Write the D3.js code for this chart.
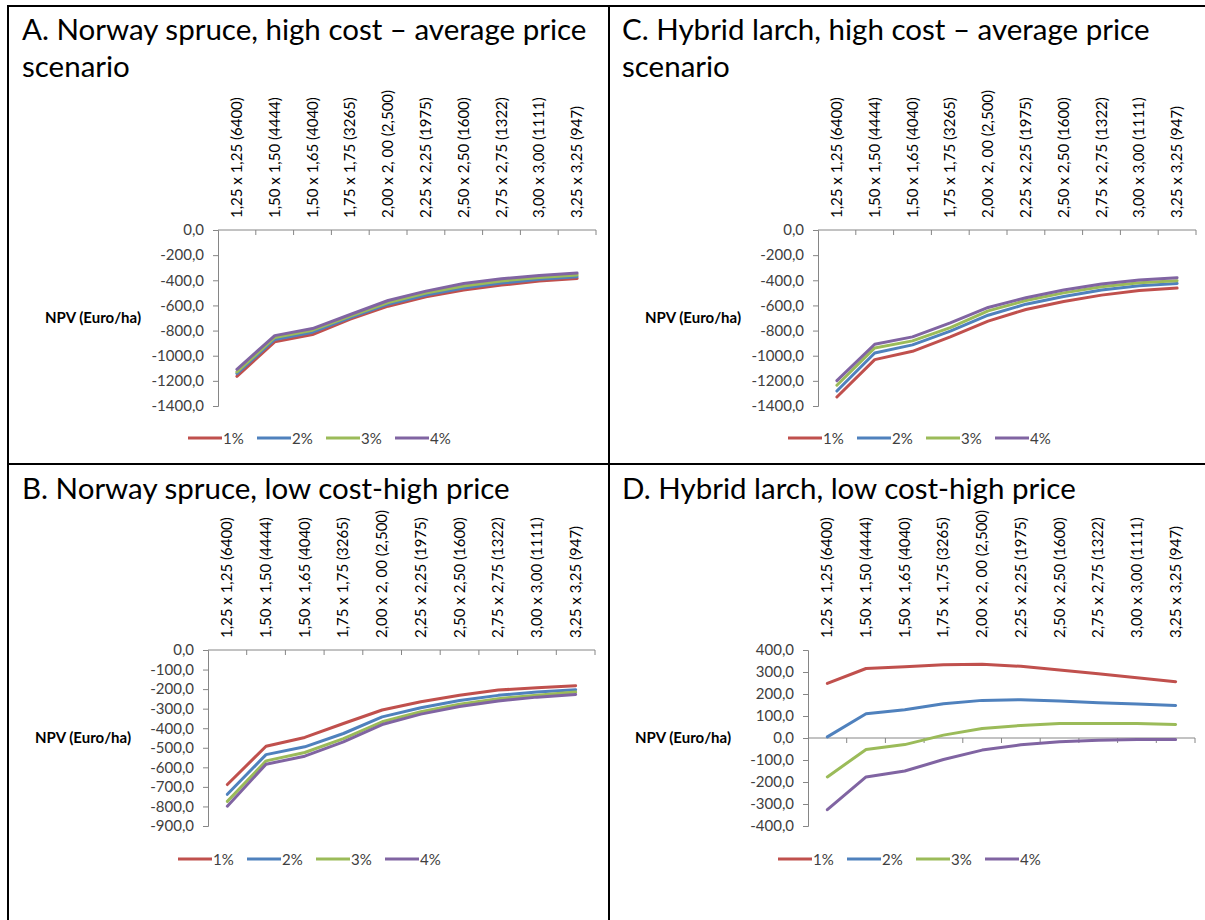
<!DOCTYPE html>
<html>
<head>
<meta charset="utf-8">
<script src="https://cdn.jsdelivr.net/npm/d3@7"></script>
<style>
  html, body { margin: 0; padding: 0; background: #fff; }
  svg { display: block; }
  text { font-family: Lato, "Open Sans", sans-serif; fill: #404040; }
</style>
</head>
<body>
<svg id="fig" width="1205" height="920"></svg>
<script>
// Spacing (m x m) with stems per hectare
const categories = [
  "1,25 x 1,25 (6400)", "1,50 x 1,50 (4444)", "1,50 x 1,65 (4040)", "1,75 x 1,75 (3265)",
  "2,00 x 2, 00 (2,500)", "2,25 x 2,25 (1975)", "2,50 x 2,50 (1600)", "2,75 x 2,75 (1322)",
  "3,00 x 3,00 (1111)", "3,25 x 3,25 (947)"
];
const rates = ["1%", "2%", "3%", "4%"];
const rateColors = ["#C0504D", "#4F81BD", "#9BBB59", "#8064A2"];

// NPV (Euro/ha) per discount rate, one row per rate
const npvSpruceHighCost = [
  [-1164, -890, -832, -709, -606, -531, -478, -438, -406, -385],
  [-1142, -871, -813, -697, -590, -517, -462, -422, -392, -372],
  [-1129, -855, -797, -685, -577, -502, -445, -405, -377, -357],
  [-1108, -840, -784, -672, -561, -486, -425, -388, -361, -343]
];
const npvLarchHighCost = [
  [-1328, -1031, -965, -850, -725, -632, -569, -518, -481, -462],
  [-1281, -978, -914, -805, -678, -590, -529, -478, -444, -425],
  [-1235, -938, -882, -776, -643, -561, -500, -452, -420, -404],
  [-1198, -909, -850, -739, -616, -539, -478, -430, -398, -380]
];
const npvSpruceLowCost = [
  [-688, -492, -447, -376, -307, -265, -231, -205, -193, -183],
  [-738, -535, -495, -427, -342, -295, -258, -232, -215, -203],
  [-774, -567, -524, -453, -367, -316, -277, -249, -231, -215],
  [-799, -584, -543, -470, -381, -328, -289, -261, -241, -227]
];
const npvLarchLowCost = [
  [248, 316, 324, 333, 335, 326, 309, 292, 274, 256],
  [5, 110, 128, 156, 171, 174, 168, 160, 154, 148],
  [-177, -52, -30, 13, 43, 57, 66, 66, 66, 61],
  [-326, -177, -150, -98, -55, -31, -17, -10, -7, -7]
];

const yTicksA = [0, -200, -400, -600, -800, -1000, -1200, -1400];
const yTicksB = [0, -100, -200, -300, -400, -500, -600, -700, -800, -900];
const yTicksD = [400, 300, 200, 100, 0, -100, -200, -300, -400];

const panels = [
  { title: ["A. Norway spruce, high cost \u2013 average price", "scenario"], tx: 22, ty: 40,
    data: npvSpruceHighCost, ticks: yTicksA, left: 218, right: 596, top: 230, bottom: 406, legendY: 438 },
  { title: ["C. Hybrid larch, high cost \u2013 average price", "scenario"], tx: 622, ty: 40,
    data: npvLarchHighCost, ticks: yTicksA, left: 818, right: 1196, top: 230, bottom: 406, legendY: 438 },
  { title: ["B. Norway spruce, low cost-high price"], tx: 22, ty: 499,
    data: npvSpruceLowCost, ticks: yTicksB, left: 208, right: 595, top: 650, bottom: 826, legendY: 859 },
  { title: ["D. Hybrid larch, low cost-high price"], tx: 622, ty: 499,
    data: npvLarchLowCost, ticks: yTicksD, left: 808, right: 1195, top: 650, bottom: 826, legendY: 859 }
];

const fmt = d3.formatLocale({ decimal: ",", thousands: ".", grouping: [3], currency: ["", ""], minus: "-" }).format(".1f");
const svg = d3.select("#fig");
const axisGrey = "#868686";

// Table frame around the four panels
const frame = svg.append("g").attr("stroke", "#000").attr("stroke-width", 2);
frame.append("line").attr("x1", 7).attr("x2", 1205).attr("y1", 6).attr("y2", 6);
frame.append("line").attr("x1", 8).attr("x2", 8).attr("y1", 5).attr("y2", 920);
frame.append("line").attr("x1", 609).attr("x2", 609).attr("y1", 5).attr("y2", 920);
frame.append("line").attr("x1", 7).attr("x2", 1205).attr("y1", 464).attr("y2", 464);

panels.forEach(p => {
  const g = svg.append("g");

  // Panel heading
  p.title.forEach((line, i) => {
    g.append("text").attr("x", p.tx).attr("y", p.ty + i * 37)
      .style("font-size", "29.5px").style("fill", "#000").text(line);
  });

  const x = d3.scaleBand().domain(categories).range([p.left, p.right]);
  const y = d3.scaleLinear().domain([d3.min(p.ticks), d3.max(p.ticks)]).range([p.bottom, p.top]);

  // Value axis
  const yAxis = g.append("g").attr("transform", `translate(${p.left},0)`)
    .call(d3.axisLeft(y).tickValues(p.ticks).tickFormat(fmt).tickSizeOuter(0).tickSize(5).tickPadding(9));
  yAxis.select(".domain").attr("stroke", axisGrey);
  yAxis.selectAll(".tick line").attr("stroke", axisGrey);
  yAxis.selectAll(".tick text").style("font-size", "15px").style("fill", "#404040").attr("font-family", null);

  // Category axis crossing at zero, with boundary tick marks
  const y0 = y(0);
  g.append("line").attr("x1", p.left).attr("x2", p.right).attr("y1", y0).attr("y2", y0)
    .attr("stroke", axisGrey);
  const bounds = categories.map(c => x(c)).concat([p.right]).slice(1);
  g.selectAll(".ctick").data(bounds).join("line")
    .attr("x1", d => d).attr("x2", d => d).attr("y1", y0).attr("y2", y0 + 5)
    .attr("stroke", axisGrey);

  // Category labels sit above the plot area
  g.selectAll(".clab").data(categories).join("text")
    .attr("transform", d => `translate(${x(d) + x.bandwidth() / 2 + 5},${p.top - 12}) rotate(-90)`)
    .style("font-size", "15px").style("fill", "#000")
    .text(d => d);

  // Axis title
  g.append("text").attr("x", p.left - 173).attr("y", (p.top + p.bottom) / 2 + 5)
    .style("font-size", "15px").style("font-weight", "bold").style("fill", "#000")
    .text("NPV (Euro/ha)");

  // Series lines
  const line = d3.line().x((d, i) => x(categories[i]) + x.bandwidth() / 2).y(d => y(d));
  g.selectAll(".series").data(p.data).join("path")
    .attr("d", line).attr("fill", "none")
    .attr("stroke", (d, i) => rateColors[i]).attr("stroke-width", 3)
    .attr("stroke-linejoin", "round").attr("stroke-linecap", "round");

  // Legend
  const lx = p.left - 30;
  const leg = g.selectAll(".leg").data(rates).join("g")
    .attr("transform", (d, i) => `translate(${lx + i * 69},${p.legendY})`);
  leg.append("line").attr("x1", 0).attr("x2", 34).attr("y1", 0).attr("y2", 0)
    .attr("stroke", (d, i) => rateColors[i]).attr("stroke-width", 3);
  leg.append("text").attr("x", 35).attr("y", 5.5).style("font-size", "15px").style("fill", "#404040").text(d => d);
});
</script>
</body>
</html>
